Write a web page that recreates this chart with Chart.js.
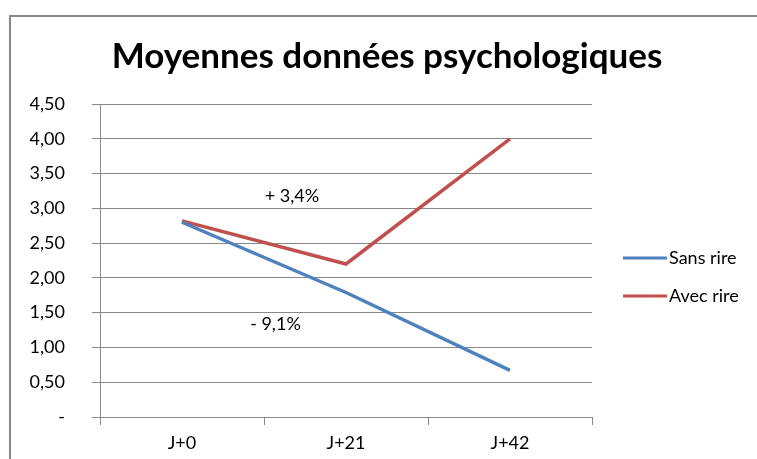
<!DOCTYPE html>
<html>
<head>
<meta charset="utf-8">
<script src="https://cdn.jsdelivr.net/npm/chart.js@4"></script>
<style>
    body { margin: 0; background: #fff; }
    #frame {
        position: absolute; left: 9px; top: 15px; width: 760px; height: 460px;
        border-left: 2px solid #888; border-top: 2px solid #888;
    }
    #wrap { position: absolute; left: 0; top: 0; width: 757px; height: 459px; }
</style>
</head>
<body>
<div id="frame"></div>
<div id="wrap"><canvas id="chart" width="757" height="459"></canvas></div>
<script>
// Chart data
const categories = ['J+0', 'J+21', 'J+42'];
const sansRire = [2.80, 1.79, 0.67];
const avecRire = [2.82, 2.20, 4.00];
const seriesNames = ['Sans rire', 'Avec rire'];
const chartTitle = 'Moyennes données psychologiques';

// Notes written on the plot: text, category position, value
const noteTexts = ['+ 3,4%', '- 9,1%'];
const notePosX = [0.67, 0.57];
const notePosY = [3.18, 1.34];

const FONT = 'Lato, "Open Sans", sans-serif';

// Title centred on the whole frame (not only the plot + axes)
const frameTitle = {
    id: 'frameTitle',
    afterDraw(chart) {
        const { ctx } = chart;
        ctx.save();
        ctx.font = 'bold 35px ' + FONT;
        ctx.fillStyle = '#000';
        ctx.textAlign = 'center';
        ctx.textBaseline = 'middle';
        ctx.fillText(chartTitle, 387, 57);
        ctx.restore();
    }
};

// Draws the percentage notes through the chart scales
const notesPlugin = {
    id: 'notes',
    afterDatasetsDraw(chart) {
        const { ctx, scales } = chart;
        ctx.save();
        ctx.font = '18px ' + FONT;
        ctx.fillStyle = '#000';
        ctx.textAlign = 'center';
        ctx.textBaseline = 'middle';
        noteTexts.forEach((t, i) => {
            const x = scales.x.getPixelForValue(notePosX[i]);
            const y = scales.y.getPixelForValue(notePosY[i]);
            ctx.fillText(t, x, y);
        });
        ctx.restore();
    }
};

// Legend on the right, built from the datasets
const sideLegend = {
    id: 'sideLegend',
    afterDraw(chart) {
        const { ctx } = chart;
        const x0 = chart.chartArea.right + 31;
        ctx.save();
        ctx.font = '18px ' + FONT;
        ctx.textBaseline = 'middle';
        chart.data.datasets.forEach((ds, i) => {
            const y = 258 + i * 38;
            ctx.strokeStyle = ds.borderColor;
            ctx.lineWidth = 3;
            ctx.beginPath();
            ctx.moveTo(x0, y);
            ctx.lineTo(x0 + 44, y);
            ctx.stroke();
            ctx.fillStyle = '#000';
            ctx.fillText(ds.label, x0 + 46, y);
        });
        ctx.restore();
    }
};

new Chart(document.getElementById('chart'), {
    type: 'line',
    data: {
        labels: categories,
        datasets: [
            {
                label: seriesNames[0],
                data: sansRire,
                borderColor: '#4F81BD',
                backgroundColor: '#4F81BD',
                borderWidth: 3.5,
                pointRadius: 0,
                tension: 0
            },
            {
                label: seriesNames[1],
                data: avecRire,
                borderColor: '#C0504D',
                backgroundColor: '#C0504D',
                borderWidth: 3.5,
                pointRadius: 0,
                tension: 0
            }
        ]
    },
    options: {
        responsive: false,
        animation: false,
        layout: { padding: { left: 10, right: 165, top: 104, bottom: 0 } },
        plugins: {
            title: { display: false },
            legend: { display: false },
            tooltip: { enabled: false }
        },
        scales: {
            x: {
                offset: true,
                grid: {
                    offset: true,
                    drawOnChartArea: false,
                    drawTicks: true,
                    tickLength: 8,
                    color: '#888'
                },
                border: { color: '#888' },
                ticks: { color: '#000', font: { family: FONT, size: 18 }, padding: 7 },
                afterFit(s) { s.height = 42; }
            },
            y: {
                min: 0,
                max: 4.5,
                grid: { color: '#888', tickLength: 8 },
                border: { color: '#888' },
                ticks: {
                    stepSize: 0.5,
                    color: '#000',
                    font: { family: FONT, size: 18 },
                    padding: 27,
                    callback: v => v === 0 ? '-' : v.toFixed(2).replace('.', ',')
                },
                afterFit(s) { s.width = 90; }
            }
        }
    },
    plugins: [frameTitle, notesPlugin, sideLegend]
});
</script>
</body>
</html>
